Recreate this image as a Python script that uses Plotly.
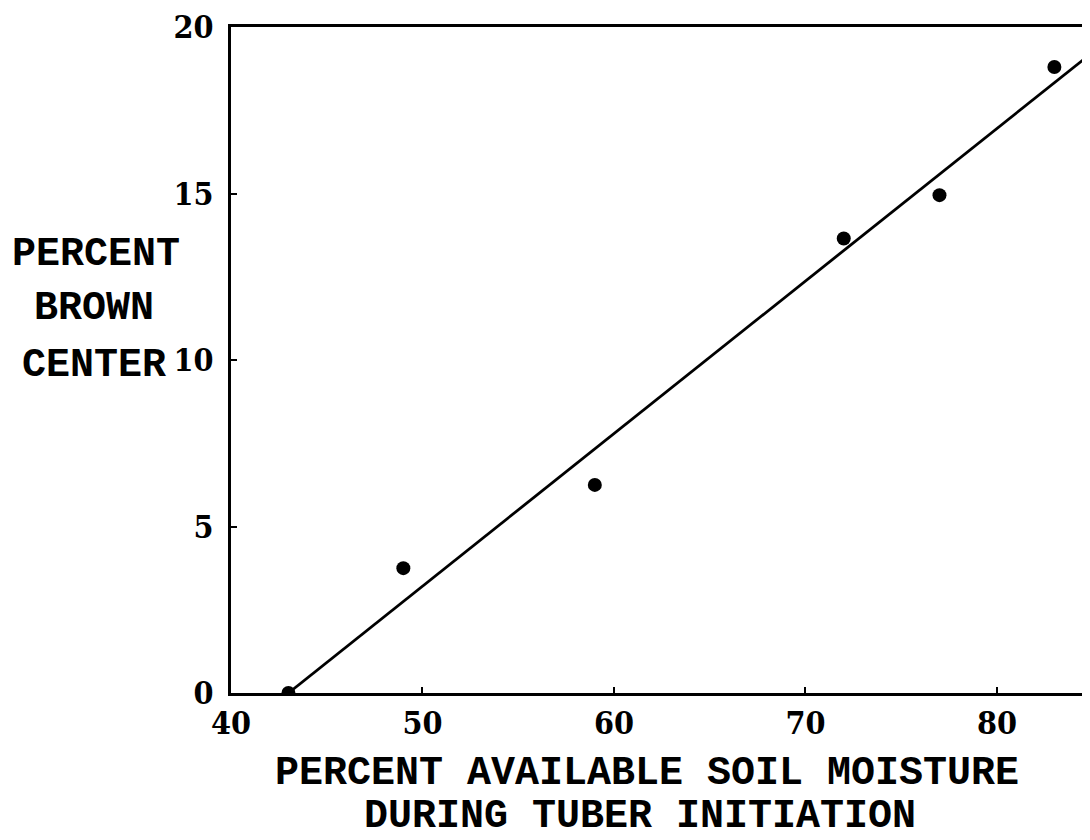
import plotly.graph_objects as go

# Data
moisture = [43, 49, 59, 72, 77, 83]
brown_center = [0, 3.75, 6.25, 13.65, 14.95, 18.8]

# Regression line endpoints
fit_x = [43, 84.86]
fit_y = [0, 19.18]

x_ticks = [40, 50, 60, 70, 80]
y_ticks = [0, 5, 10, 15, 20]

TICK_FONT = "DejaVu Serif Condensed, DejaVu Serif"
TITLE_FONT = "Liberation Mono"

fig = go.Figure()
fig.add_trace(go.Scatter(x=fit_x, y=fit_y, mode="lines",
                         line=dict(color="black", width=2.8), showlegend=False))
fig.add_trace(go.Scatter(x=moisture, y=brown_center, mode="markers",
                         marker=dict(color="black", size=14), showlegend=False,
                         cliponaxis=True))

fig.update_layout(
    width=1082, height=836,
    margin=dict(l=223, r=0, t=14, b=151),
    paper_bgcolor="white", plot_bgcolor="white",
    font=dict(family=TICK_FONT, color="black"),
    xaxis=dict(range=[40, 84.86], tickvals=x_ticks, showgrid=False, zeroline=False,
               showline=True, linecolor="black", linewidth=3, mirror=True,
               ticks="inside", ticklen=6, tickwidth=2, tickcolor="black",
               ticklabeloverflow="allow",
               tickfont=dict(family=TICK_FONT, size=32, color="black", weight="bold"),
               layer="above traces"),
    yaxis=dict(range=[0, 20], tickvals=y_ticks, showgrid=False, zeroline=False,
               showline=True, linecolor="black", linewidth=3, mirror=False,
               ticks="inside", ticklen=6, tickwidth=2, tickcolor="black",
               ticklabelstandoff=8, ticklabeloverflow="allow",
               tickfont=dict(family=TICK_FONT, size=32, color="black", weight="bold"),
               layer="above traces"),
)

def label(text, x, y):
    fig.add_annotation(text=text, xref="paper", yref="paper", x=x, y=y,
                       xanchor="center", yanchor="middle", showarrow=False,
                       font=dict(family=TITLE_FONT, size=40, color="black", weight="bold"))

label("PERCENT", -0.157, 0.659)
label("BROWN", -0.159, 0.577)
label("CENTER", -0.159, 0.492)
label("PERCENT AVAILABLE SOIL MOISTURE", 0.484, -0.121)
label("DURING TUBER INITIATION", 0.476, -0.185)

fig.write_html("out.html")
